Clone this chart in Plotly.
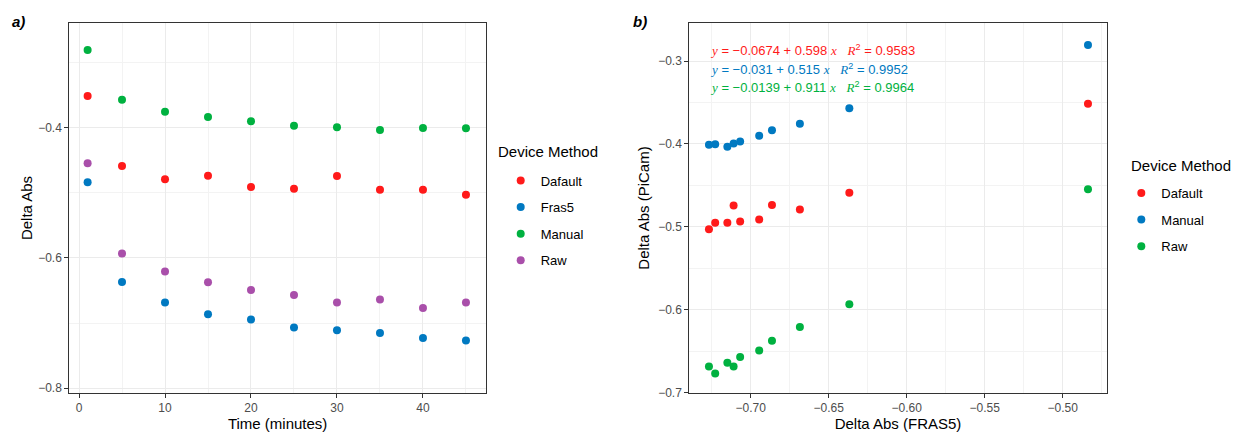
import plotly.graph_objects as go

# ---- data ----
time_min = [1, 5, 10, 15, 20, 25, 30, 35, 40, 45]
dafault = [-0.3514, -0.4588, -0.4792, -0.4737, -0.4910, -0.4936, -0.4741, -0.4951, -0.4951, -0.5028]
fras5 = [-0.4838, -0.6368, -0.6685, -0.6864, -0.6946, -0.7068, -0.7110, -0.7150, -0.7228, -0.7268]
manual = [-0.2808, -0.3570, -0.3755, -0.3836, -0.3900, -0.3970, -0.3995, -0.4035, -0.4005, -0.4010]
raw = [-0.4546, -0.5932, -0.6209, -0.6373, -0.6491, -0.6568, -0.6685, -0.6639, -0.6767, -0.6685]

left_names = ["Dafault", "Fras5", "Manual", "Raw"]
right_names = ["Dafault", "Manual", "Raw"]
eq_labels = [
    ("-0.0674", "0.598", "0.9583"),
    ("-0.031", "0.515", "0.9952"),
    ("-0.0139", "0.911", "0.9964"),
]
legend_title = "Device Method"

RED, BLUE, GREEN, PURPLE = "#FF1A1A", "#0079C1", "#00B140", "#A94FAA"
FONT = "Liberation Sans, Arial, sans-serif"
SERIF = "Liberation Serif, DejaVu Serif, serif"

W, H = 1235, 433
def px(x):
    return x / W
def py(y):
    return 1 - y / H

fig = go.Figure()

left_series = [dafault, fras5, manual, raw]
left_colors = [RED, BLUE, GREEN, PURPLE]
for name, vals, col in zip(left_names, left_series, left_colors):
    fig.add_trace(go.Scatter(
        x=time_min, y=vals, mode="markers", name=name,
        marker=dict(color=col, size=8, line=dict(width=0)),
        xaxis="x", yaxis="y", legend="legend", legendgroup="L" + name,
    ))

right_series = [dafault, manual, raw]
right_colors = [RED, BLUE, GREEN]
for name, vals, col in zip(right_names, right_series, right_colors):
    fig.add_trace(go.Scatter(
        x=fras5, y=vals, mode="markers", name=name,
        marker=dict(color=col, size=8, line=dict(width=0)),
        xaxis="x2", yaxis="y2", legend="legend2", legendgroup="R" + name,
    ))

axis_common = dict(
    showline=True, mirror=True, linecolor="#333333", linewidth=1,
    ticks="outside", ticklen=4, tickcolor="#333333", tickwidth=1,
    showgrid=True, gridcolor="#EBEBEB", gridwidth=1.2, zeroline=False,
    tickfont=dict(family=FONT, size=12, color="#4D4D4D"),
    automargin=False,
)
minor_style = dict(showgrid=True, gridcolor="#F3F3F3", gridwidth=0.8)
title_font = dict(size=15, family=FONT, color="black")

fig.update_layout(
    width=W, height=H,
    margin=dict(l=0, r=0, t=0, b=0, autoexpand=False),
    paper_bgcolor="white", plot_bgcolor="white",
    font=dict(family=FONT, color="black"),
    xaxis=dict(**axis_common, domain=[px(69.3), px(486)], range=[-1.13, 47.33],
               dtick=10, tick0=0, minor=dict(dtick=5, tick0=0, **minor_style),
               title=dict(text="Time (minutes)", font=title_font, standoff=4),
               anchor="y"),
    yaxis=dict(**axis_common, domain=[py(392.7), py(23.3)], range=[-0.8068, -0.2398],
               dtick=0.2, tick0=0, tickformat=".1f", minor=dict(dtick=0.1, tick0=0, **minor_style),
               title=dict(text="Delta Abs", font=title_font, standoff=1),
               anchor="x"),
    xaxis2=dict(**axis_common, domain=[px(689.3), px(1106.7)], range=[-0.7394, -0.4718],
                dtick=0.05, tick0=0, tickformat=".2f", minor=dict(dtick=0.025, tick0=0, **minor_style),
                title=dict(text="Delta Abs (FRAS5)", font=title_font, standoff=4),
                anchor="y2"),
    yaxis2=dict(**axis_common, domain=[py(392.7), py(23.3)], range=[-0.70, -0.2545],
                dtick=0.1, tick0=0, tickformat=".1f", minor=dict(dtick=0.05, tick0=0, **minor_style),
                title=dict(text="Delta Abs (PiCam)", font=title_font, standoff=4),
                anchor="x2"),
    legend=dict(
        x=px(500.7), y=py(165.5), xanchor="left", yanchor="top",
        font=dict(size=13, family=FONT, color="black"),
        tracegroupgap=6.7, bgcolor="rgba(0,0,0,0)",
    ),
    legend2=dict(
        x=px(1121.3), y=py(178), xanchor="left", yanchor="top",
        font=dict(size=13, family=FONT, color="black"),
        tracegroupgap=6.7, bgcolor="rgba(0,0,0,0)",
    ),
    showlegend=True,
)

annotations = [
    dict(text="<b><i>a)</i></b>", x=px(10), y=py(22), xref="paper", yref="paper",
         xanchor="left", yanchor="middle", showarrow=False,
         font=dict(size=15, family=FONT, color="black")),
    dict(text="<b><i>b)</i></b>", x=px(631), y=py(22), xref="paper", yref="paper",
         xanchor="left", yanchor="middle", showarrow=False,
         font=dict(size=15, family=FONT, color="black")),
    dict(text=legend_title, x=px(496), y=py(151.7), xref="paper", yref="paper",
         xanchor="left", yanchor="middle", showarrow=False, font=title_font),
    dict(text=legend_title, x=px(1129), y=py(165), xref="paper", yref="paper",
         xanchor="left", yanchor="middle", showarrow=False, font=title_font),
]

eq_y = [50, 69.3, 87.5]
for (a, b, r2), col, yy in zip(eq_labels, right_colors, eq_y):
    a_txt = a.replace("-", "\u2212")
    txt = (f'<span style="font-family:{SERIF}"><i>y</i></span> = {a_txt} + {b} '
           f'<span style="font-family:{SERIF}"><i>x</i></span>   '
           f'<span style="font-family:{SERIF}"><i>R</i></span><sup>2</sup> = {r2}')
    annotations.append(dict(
        text=txt, x=px(708), y=py(yy), xref="paper", yref="paper",
        xanchor="left", yanchor="middle", showarrow=False,
        font=dict(size=13, family=FONT, color=col),
    ))

fig.update_layout(annotations=annotations)

fig.write_html(
    "out.html",
    config={"displayModeBar": False},
    post_script="document.body.style.margin='0px';document.body.style.overflow='hidden';",
)
